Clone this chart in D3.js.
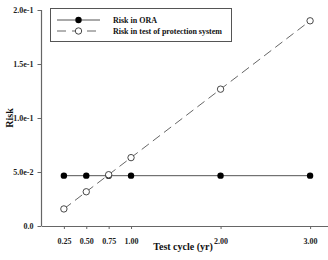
<!DOCTYPE html>
<html>
<head>
<meta charset="utf-8">
<script src="https://cdn.jsdelivr.net/npm/d3@7"></script>
<style>
  body { margin: 0; background: #fff; }
  svg { display: block; font-family: "Liberation Serif", "Times New Roman", serif; font-weight: bold; }
</style>
</head>
<body>
<svg width="328" height="260"></svg>
<script>
    var cycles = [0.25, 0.5, 0.75, 1, 2, 3];
    var riskORA = [0.0466, 0.0466, 0.0466, 0.0466, 0.0466, 0.0466];
    var riskTest = [0.0158, 0.0317, 0.0475, 0.0633, 0.1267, 0.19];
    var xTicks = [0.25, 0.5, 0.75, 1, 2, 3];
    var yTicks = [0, 0.05, 0.1, 0.15, 0.2];
    var yTickLabels = ["0.0", "5.0e-2", "1.0e-1", "1.5e-1", "2.0e-1"];
    var seriesNames = ["Risk in ORA", "Risk in test of protection system"];

    var svg = d3.select("svg");

    var x = d3.scaleLinear().domain([0, 3.2]).range([41.5, 328]);
    var y = d3.scaleLinear().domain([0, 0.2]).range([226, 10]);

    var axisColor = "#666";

    // axes
    var gx = svg.append("g")
        .attr("transform", "translate(0,226)")
        .call(d3.axisBottom(x).tickValues(xTicks).tickSize(3).tickPadding(9)
            .tickFormat(d3.format(".2f")).tickSizeOuter(0));
    var gy = svg.append("g")
        .attr("transform", "translate(41.5,0)")
        .call(d3.axisLeft(y).tickValues(yTicks).tickSize(4).tickPadding(4)
            .tickFormat(function (d, i) { return yTickLabels[i]; }).tickSizeOuter(0));

    [gx, gy].forEach(function (g) {
        g.select(".domain").attr("stroke", axisColor).attr("stroke-width", 1.2);
        g.selectAll(".tick line").attr("stroke", axisColor);
        g.selectAll(".tick text")
            .attr("fill", "#222")
            .style("font-family", "Liberation Serif, serif")
            .style("font-weight", "bold")
            .style("font-size", "8px");
    });
    // extend y axis line down to x axis at origin
    gy.select(".domain").attr("d", "M0," + y(0.2) + "V" + y(0));

    svg.append("text")
        .attr("x", 183).attr("y", 250)
        .attr("text-anchor", "middle")
        .style("font-size", "10px")
        .attr("fill", "#111")
        .text("Test cycle (yr)");

    svg.append("text")
        .attr("transform", "translate(13,118) rotate(-90)")
        .attr("text-anchor", "middle")
        .style("font-size", "10px")
        .attr("fill", "#111")
        .text("Risk");

    var line = d3.line()
        .x(function (d) { return x(d[0]); })
        .y(function (d) { return y(d[1]); });

    var oraData = cycles.map(function (c, i) { return [c, riskORA[i]]; });
    var testData = cycles.map(function (c, i) { return [c, riskTest[i]]; });

    svg.append("path")
        .attr("d", line(oraData))
        .attr("fill", "none")
        .attr("stroke", "#555")
        .attr("stroke-width", 1);

    svg.append("path")
        .attr("d", line(testData))
        .attr("fill", "none")
        .attr("stroke", "#666")
        .attr("stroke-width", 1)
        .attr("stroke-dasharray", "9,5");

    svg.append("g").selectAll("circle")
        .data(oraData).enter()
        .append("circle")
            .attr("cx", function (d) { return x(d[0]); })
            .attr("cy", function (d) { return y(d[1]); })
            .attr("r", 3.2)
            .attr("fill", "#000");

    svg.append("g").selectAll("circle")
        .data(testData).enter()
        .append("circle")
            .attr("cx", function (d) { return x(d[0]); })
            .attr("cy", function (d) { return y(d[1]); })
            .attr("r", 3.2)
            .attr("fill", "#fff")
            .attr("stroke", "#333")
            .attr("stroke-width", 0.9);

    // legend
    var legend = svg.append("g");
    legend.append("rect")
        .attr("x", 50.5).attr("y", 8.5)
        .attr("width", 181).attr("height", 33)
        .attr("fill", "#fff")
        .attr("stroke", "#555")
        .attr("stroke-width", 1);

    var legendY = [20, 31];
    legend.append("line")
        .attr("x1", 57).attr("x2", 100).attr("y1", legendY[0]).attr("y2", legendY[0])
        .attr("stroke", "#555");
    legend.append("circle")
        .attr("cx", 78.5).attr("cy", legendY[0]).attr("r", 3.2).attr("fill", "#000");
    legend.append("line")
        .attr("x1", 57).attr("x2", 100).attr("y1", legendY[1]).attr("y2", legendY[1])
        .attr("stroke", "#666").attr("stroke-dasharray", "9,6");
    legend.append("circle")
        .attr("cx", 78.5).attr("cy", legendY[1]).attr("r", 3.2)
        .attr("fill", "#fff").attr("stroke", "#333").attr("stroke-width", 0.9);

    legend.selectAll("text.lab")
        .data(seriesNames).enter()
        .append("text")
            .attr("class", "lab")
            .attr("x", 113)
            .attr("y", function (d, i) { return legendY[i] + 3; })
            .style("font-size", "8px")
            .attr("fill", "#111")
            .text(function (d) { return d; });
</script>
</body>
</html>
